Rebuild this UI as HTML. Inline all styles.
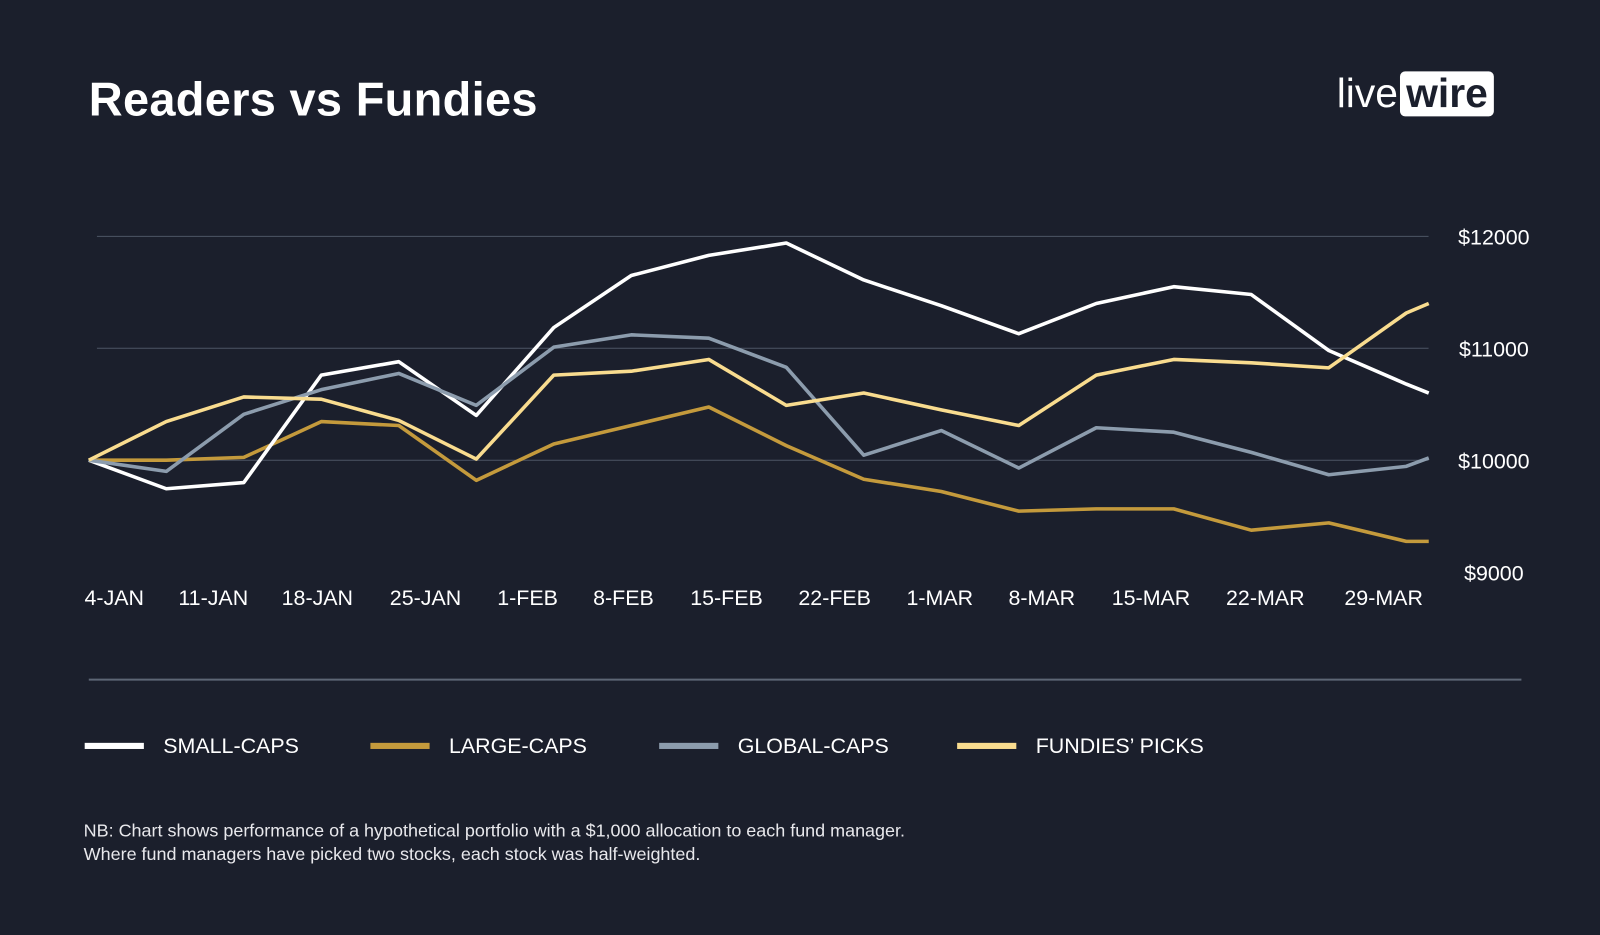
<!DOCTYPE html>
<html><head><meta charset="utf-8"><style>
body{margin:0;background:#1b1f2c;width:1600px;height:935px;overflow:hidden;font-family:"Liberation Sans",sans-serif;color:#fff}
#wrap{position:absolute;left:0;top:0;width:1568px;height:916px;transform:scale(1.0204);transform-origin:0 0}
.t{position:absolute}
</style></head><body>
<div id="wrap">
<div class="t" style="left:87px;top:70px;font-size:46px;font-weight:bold;letter-spacing:0.3px">Readers vs Fundies</div>
<div class="t" style="left:1310px;top:70px;height:48px;font-size:40px;">
<span style="vertical-align:top;line-height:44px">live</span><span style="display:inline-block;background:#fff;color:#1b1f2c;font-weight:bold;border-radius:5px;padding:0 6px;line-height:44px;margin-left:2px">wire</span></div>
<svg id="c" class="t" style="left:0;top:0" width="1568" height="916"></svg>
<div class="t" style="left:82px;top:803px;font-size:17.6px;line-height:23px;color:#e8e8ec">NB: Chart shows performance of a hypothetical portfolio with a $1,000 allocation to each fund manager.<br>Where fund managers have picked two stocks, each stock was half-weighted.</div>
</div>
<script>
const xLabels=["4-JAN","11-JAN","18-JAN","25-JAN","1-FEB","8-FEB","15-FEB","22-FEB","1-MAR","8-MAR","15-MAR","22-MAR","29-MAR"];
const xLabelPos=[112,209,311,417,517,611,712,818,921,1021,1128,1240,1356];
const yTicks=[9000,10000,11000,12000];
const idx=[0,1,2,3,4,5,6,7,8,9,10,11,12,13,14,15,16,17,17.29];
const smallCaps=[10000,9745,9800,10760,10880,10400,11185,11650,11830,11940,11610,11380,11130,11400,11550,11480,10980,10680,10600];
const largeCaps=[10000,10000,10025,10345,10310,9820,10145,10310,10475,10130,9830,9720,9545,9565,9565,9375,9440,9275,9275];
const globalCaps=[10000,9900,10410,10630,10775,10490,11010,11120,11090,10830,10045,10265,9930,10290,10250,10070,9870,9945,10020];
const fundies=[10000,10345,10565,10545,10355,10010,10760,10795,10900,10490,10600,10450,10310,10760,10900,10870,10825,11315,11400];
const series=[["small-caps","SMALL-CAPS",smallCaps,"#ffffff"],["large-caps","LARGE-CAPS",largeCaps,"#c49a3c"],["global-caps","GLOBAL-CAPS",globalCaps,"#8c9cad"],["fundies-picks","FUNDIES’ PICKS",fundies,"#f9dc8f"]];
const svg=document.getElementById('c');const NS="http://www.w3.org/2000/svg";
const X=i=>87+i*75.95, Y=v=>451-(v-10000)*0.1097;
function mk(t,a){const e=document.createElementNS(NS,t);for(const k in a)e.setAttribute(k,a[k]);svg.appendChild(e);return e;}
yTicks.forEach(v=>{
 if(v>9000){const l=mk('line',{x1:95,x2:1400,y1:Y(v),y2:Y(v),stroke:'#4d5564','stroke-width':1});
 
 }
 const t=mk('text',{x:1464,y:Y(v)+8,'text-anchor':'middle',fill:'#fff','font-size':21});t.textContent='$'+v;
 
 
});
xLabels.forEach((s,i)=>{const t=mk('text',{x:xLabelPos[i],y:593,'text-anchor':'middle',fill:'#fff','font-size':21});t.textContent=s;
 
 });
const d=mk('line',{x1:87,x2:1491,y1:666,y2:666,stroke:'#5d6675','stroke-width':2});


[1,0,2,3].forEach(k=>{const s=series[k];
 const p=mk('polyline',{points:s[2].map((v,i)=>X(idx[i])+','+Y(v)).join(' '),fill:'none',stroke:s[3],'stroke-width':3.5,'stroke-linejoin':'round'});
 
 });
const lx=[83,363,646,938];
series.forEach((s,i)=>{
 const r=mk('rect',{x:lx[i],y:728,width:58,height:6,fill:s[3]});
 
 
 const t=mk('text',{x:lx[i]+77,y:738,fill:'#fff','font-size':21});t.textContent=s[1];
 
 
});
</script>
</body></html>
